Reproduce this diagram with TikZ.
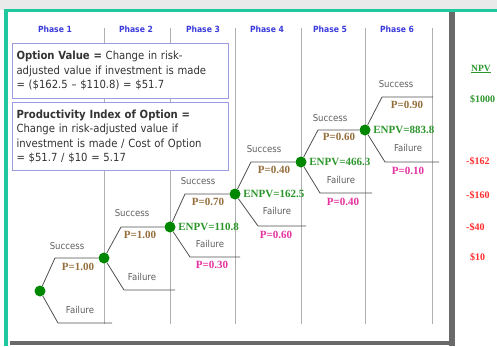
\documentclass[tikz,border=0pt]{standalone}
\usepackage{fontspec}
\setmainfont{DejaVu Sans Condensed}
\newfontfamily\valfont{Liberation Serif}
\usetikzlibrary{positioning}
\hyphenpenalty=10000
\definecolor{framegreen}{RGB}{32,200,160}
\definecolor{bggrey}{RGB}{234,234,234}
\definecolor{shadowgrey}{RGB}{105,105,105}
\definecolor{nodegreen}{RGB}{0,135,0}
\definecolor{enpvgreen}{RGB}{45,150,45}
\definecolor{pbrown}{RGB}{150,110,60}
\definecolor{pmagenta}{RGB}{230,50,160}
\definecolor{npvred}{RGB}{255,45,45}
\definecolor{phaseblue}{RGB}{60,60,220}
\definecolor{boxlav}{RGB}{155,155,225}
\definecolor{divgrey}{RGB}{175,175,175}
\definecolor{branchgrey}{RGB}{80,80,80}
\definecolor{txtgrey}{RGB}{95,95,95}

\begin{document}
\begin{tikzpicture}[x=1pt,y=-1pt,
        chance/.style={circle,fill=nodegreen,minimum size=11pt},
        branch/.style={branchgrey,line width=0.8pt},
        divider/.style={divgrey,line width=0.8pt},
        phaselabel/.style={text=phaseblue,font=\fontsize{8.5}{10}\selectfont\bfseries},
        outcome/.style={text=txtgrey,font=\fontsize{9.5}{11}\selectfont},
        psucc/.style={text=pbrown,font=\valfont\fontsize{11}{12}\selectfont\bfseries},
        pfail/.style={psucc,text=pmagenta},
        enpv/.style={psucc,text=enpvgreen},
        npvval/.style={anchor=west,text=npvred,font=\valfont\fontsize{10}{12}\selectfont\bfseries},
        infobox/.style={draw=boxlav,fill=white,line width=1pt,anchor=north west,
            minimum width=216pt,text width=208pt,align=left,inner sep=4pt,text=black!80,
            font=\fontsize{11.2}{14.5}\selectfont}]
        \tikzstyle{every node}+=[inner sep=0pt]
        \useasboundingbox (0,0) rectangle (497,346);
        \fill[bggrey] (0,0) rectangle (497,10);
        \fill[white] (0,10) rectangle (497,346);
        \fill[framegreen] (4,9) rectangle (497,11.5);
        \fill[framegreen] (4,9) rectangle (7.5,346);
        \fill[shadowgrey] (449,11.5) rectangle (455,346);
        \fill[shadowgrey] (10,341) rectangle (455,345);
        \fill[white] (7.5,11.5) rectangle (449,341);
        \foreach \x in {104,170,235,301,365,432}
            \draw[divider] (\x,28) -- (\x,324);
        \node[phaselabel] (ph1) at (55,29) {Phase 1};
        \node[phaselabel] (ph2) at (136,29) {Phase 2};
        \node[phaselabel] (ph3) at (203,29) {Phase 3};
        \node[phaselabel] (ph4) at (267,29) {Phase 4};
        \node[phaselabel] (ph5) at (330,29) {Phase 5};
        \node[phaselabel] (ph6) at (397,29) {Phase 6};
        \node[infobox,minimum height=55pt] (optval) at (12,43)
            {\textbf{Option Value =} Change in risk-\\adjusted value if investment is made\\= (\$162.5 – \$110.8) = \$51.7};
        \node[infobox,minimum height=68pt] (pindex) at (12,102)
            {\textbf{Productivity Index of Option =}\\Change in risk-adjusted value if\\investment is made / Cost of Option\\= \$51.7 / \$10 = 5.17};
        \node[chance] (n0) at (40,291) {};
        \node[chance] (n1) at (104,258) {};
        \node[chance] (n2) at (170,227) {};
        \node[chance] (n3) at (235,194) {};
        \node[chance] (n4) at (301,162) {};
        \node[chance] (n5) at (365,130) {};
        \coordinate (s0) at (55,258);
        \coordinate (s1) at (121,227);
        \coordinate (s2) at (185,194);
        \coordinate (s3) at (251,162);
        \coordinate (s4) at (318,130);
        \coordinate (s5) at (382,97);
        \coordinate (s5e) at (433,97);
        \coordinate (f0) at (58,323);
        \coordinate (f0e) at (112,323);
        \coordinate (f1) at (124,290);
        \coordinate (f1e) at (175,290);
        \coordinate (f2) at (190,257);
        \coordinate (f2e) at (240,257);
        \coordinate (f3) at (258,226);
        \coordinate (f3e) at (306,226);
        \coordinate (f4) at (320,193);
        \coordinate (f4e) at (372,193);
        \coordinate (f5) at (385,162);
        \coordinate (f5e) at (439,162);
        \draw[branch] (n0) -- (s0) -- (n1);
        \draw[branch] (n1) -- (s1) -- (n2);
        \draw[branch] (n2) -- (s2) -- (n3);
        \draw[branch] (n3) -- (s3) -- (n4);
        \draw[branch] (n4) -- (s4) -- (n5);
        \draw[branch] (n5) -- (s5) -- (s5e);
        \draw[branch] (n0) -- (f0) -- (f0e);
        \draw[branch] (n1) -- (f1) -- (f1e);
        \draw[branch] (n2) -- (f2) -- (f2e);
        \draw[branch] (n3) -- (f3) -- (f3e);
        \draw[branch] (n4) -- (f4) -- (f4e);
        \draw[branch] (n5) -- (f5) -- (f5e);
        \node[outcome] (succ0) at (67,246) {Success};
        \node[psucc] (p0) at (78,267) {P=1.00};
        \node[outcome] (fail0) at (80,310) {Failure};
        \node[outcome] (succ1) at (132,213) {Success};
        \node[psucc] (p1) at (140,235) {P=1.00};
        \node[outcome] (fail1) at (142,277) {Failure};
        \node[outcome] (succ2) at (198,181) {Success};
        \node[psucc] (p2) at (208,202) {P=0.70};
        \node[enpv,right=2.5pt of n2] (v2) {ENPV=110.8};
        \node[outcome] (fail2) at (210,244) {Failure};
        \node[pfail] (q2) at (212,265) {P=0.30};
        \node[outcome] (succ3) at (264,149) {Success};
        \node[psucc] (p3) at (274,170) {P=0.40};
        \node[enpv,right=2.5pt of n3] (v3) {ENPV=162.5};
        \node[outcome] (fail3) at (277,211) {Failure};
        \node[pfail] (q3) at (276,235) {P=0.60};
        \node[outcome] (succ4) at (330,118) {Success};
        \node[psucc] (p4) at (339,137) {P=0.60};
        \node[enpv,right=2.5pt of n4] (v4) {ENPV=466.3};
        \node[outcome] (fail4) at (341,180) {Failure};
        \node[pfail] (q4) at (343,202) {P=0.40};
        \node[outcome] (succ5) at (396,84) {Success};
        \node[psucc] (p5) at (407,105) {P=0.90};
        \node[enpv,right=2.5pt of n5] (v5) {ENPV=883.8};
        \node[outcome] (fail5) at (408,148) {Failure};
        \node[pfail] (q5) at (408,171) {P=0.10};
        \node[text=enpvgreen,font=\valfont\fontsize{9.5}{11}\selectfont\bfseries] (npvhead) at (481,69) {\underline{NPV}};
        \node[npvval,text=enpvgreen] (npv1) at (470,99) {\$1000};
        \node[npvval] (npv2) at (466,161) {-\$162};
        \node[npvval] (npv3) at (466,195) {-\$160};
        \node[npvval] (npv4) at (466,227) {-\$40};
        \node[npvval] (npv5) at (470,257) {\$10};
\end{tikzpicture}
\end{document}
